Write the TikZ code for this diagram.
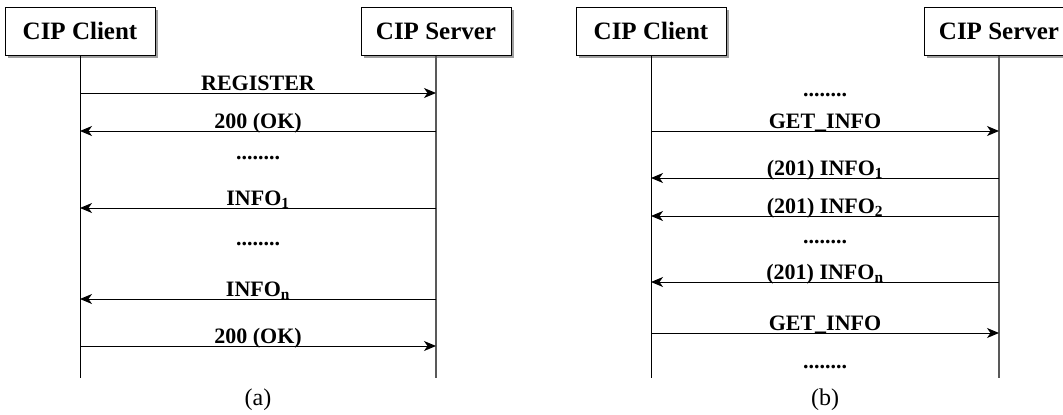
\documentclass[tikz,border=0pt]{standalone}
\usepackage{fontspec}
\setmainfont{Liberation Serif}
\usetikzlibrary{arrows.meta, shadows, positioning}

\begin{document}
\begin{tikzpicture}[x=1pt, y=-1pt,
  every node/.style={font=\fontsize{22}{24}\selectfont\bfseries},
  entidad/.style={
    rectangle, draw=black, line width=1pt, fill=white,
    minimum width=150pt, minimum height=48pt, inner sep=0pt,
    font=\fontsize{25}{27}\selectfont\bfseries,
    drop shadow={shadow xshift=3pt, shadow yshift=-3pt, fill=gray!75, opacity=1}
  },
  vida/.style={line width=0.9pt},
  vidasrv/.style={line width=1.5pt, draw=black!65},
  msg/.style={-{Stealth[length=12pt, width=10pt, inset=3.5pt]}, line width=1pt},
  etiq/.style={midway, anchor=base, yshift=2.5pt, inner sep=0pt},
  puntos/.style={midway, anchor=base, inner sep=0pt},
  subfig/.style={midway, anchor=center, yshift=-22pt, font=\fontsize{24}{26}\selectfont}
]
\useasboundingbox (0,0) rectangle (1063,415);

% --- (a) registro ---
\node[entidad] (cliA) at (80,31)  {CIP Client};
\node[entidad] (srvA) at (436,31) {CIP Server};
\coordinate (cliAfin) at (cliA.south |- 0,378);
\coordinate (srvAfin) at (srvA.south |- 0,378);
\draw[vida] (cliA.south) -- (cliAfin);
\draw[vidasrv] (srvA.south) -- (srvAfin);

\draw[msg] (cliA.south |- 0,93) -- node[etiq] (regA) {REGISTER} (srvA.south |- 0,93);
\draw[msg] (srvA.south |- 0,131) -- node[etiq] (okA1) {200 (OK)} (cliA.south |- 0,131);
\path (cliA.south |- 0,159) -- node[puntos] (ptsA1) {........} (srvA.south |- 0,159);
\draw[msg] (srvA.south |- 0,208) -- node[etiq] (infA1) {INFO\textsubscript{1}} (cliA.south |- 0,208);
\path (cliA.south |- 0,245) -- node[puntos] (ptsA2) {........} (srvA.south |- 0,245);
\draw[msg] (srvA.south |- 0,299) -- node[etiq] (infAn) {INFO\textsubscript{n}} (cliA.south |- 0,299);
\draw[msg] (cliA.south |- 0,346) -- node[etiq] (okA2) {200 (OK)} (srvA.south |- 0,346);
\path (cliAfin) -- node[subfig] (capA) {(a)} (srvAfin);

% --- (b) consulta ---
\node[entidad] (cliB) at (651,31) {CIP Client};
\node[entidad] (srvB) at (999,31) {CIP Server};
\coordinate (cliBfin) at (cliB.south |- 0,378);
\coordinate (srvBfin) at (srvB.south |- 0,378);
\draw[vida] (cliB.south) -- (cliBfin);
\draw[vidasrv] (srvB.south) -- (srvBfin);

\path (cliB.south |- 0,96) -- node[puntos] (ptsB1) {........} (srvB.south |- 0,96);
\draw[msg] (cliB.south |- 0,131) -- node[etiq] (getB1) {GET\_INFO} (srvB.south |- 0,131);
\draw[msg] (srvB.south |- 0,178) -- node[etiq] (infB1) {(201) INFO\textsubscript{1}} (cliB.south |- 0,178);
\draw[msg] (srvB.south |- 0,216) -- node[etiq] (infB2) {(201) INFO\textsubscript{2}} (cliB.south |- 0,216);
\path (cliB.south |- 0,243) -- node[puntos] (ptsB2) {........} (srvB.south |- 0,243);
\draw[msg] (srvB.south |- 0,282) -- node[etiq] (infBn) {(201) INFO\textsubscript{n}} (cliB.south |- 0,282);
\draw[msg] (cliB.south |- 0,333) -- node[etiq] (getB2) {GET\_INFO} (srvB.south |- 0,333);
\path (cliB.south |- 0,368) -- node[puntos] (ptsB3) {........} (srvB.south |- 0,368);
\path (cliBfin) -- node[subfig] (capB) {(b)} (srvBfin);
\end{tikzpicture}
\end{document}
